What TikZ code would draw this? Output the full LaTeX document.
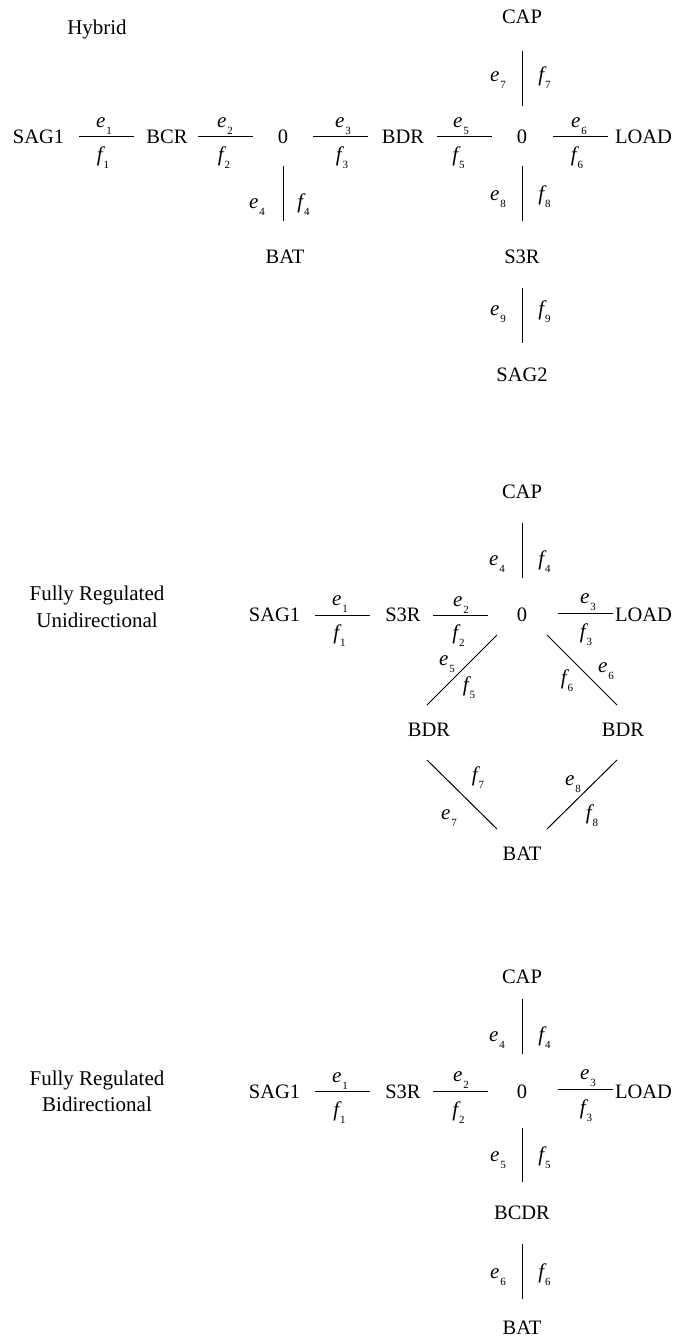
\documentclass[tikz,border=0pt]{standalone}
\usepackage{fontspec}
\setmainfont{Liberation Serif}
\usetikzlibrary{calc}
\tikzset{
  blk/.style={inner sep=0pt,outer sep=0pt,text height=14pt,text depth=0pt,font=\fontsize{20.5}{22}\selectfont},
  ttl/.style={inner sep=0pt,outer sep=0pt,align=center,font=\fontsize{21}{27}\selectfont},
  lab/.style={inner sep=0pt,outer sep=0pt,anchor=base,font=\fontsize{21}{22}\selectfont},
  conn/.style={draw=black,line width=1pt}
}
\newcommand{\bsym}[2]{{\itshape #1}\raisebox{-7pt}{\hspace{1pt}\fontsize{11}{12}\selectfont #2}}
\begin{document}
\begin{tikzpicture}[x=1pt,y=-1pt]
\useasboundingbox (0,0) rectangle (673,1339);
% ---- Hybrid
\node[ttl] (t1) at (97,29) {Hybrid};
\node[blk] (a1) at (38.5,136) {SAG1};
\node[blk] (a2) at (167,136) {BCR};
\node[blk] (a3) at (283,136) {0};
\node[blk] (a4) at (403,136) {BDR};
\node[blk] (a5) at (522,136) {0};
\node[blk] (a6) at (643.5,136) {LOAD};
\node[blk] (a7) at (522,16) {CAP};
\node[blk] (a8) at (285,256) {BAT};
\node[blk] (a9) at (522,256) {S3R};
\node[blk] (a10) at (522,374.5) {SAG2};
\draw[conn] ($(a1)+(40.5,0)$) -- ($(a2)+(-33,0)$);
\draw[conn] ($(a2)+(31,0)$) -- ($(a3)+(-30,0)$);
\draw[conn] ($(a3)+(30,0)$) -- ($(a4)+(-35,0)$);
\draw[conn] ($(a4)+(34,0)$) -- ($(a5)+(-30,0)$);
\draw[conn] ($(a5)+(31,0)$) -- ($(a6)+(-35.5,0)$);
\draw[conn] ($(a3)+(0,30)$) -- ($(a8)+(-2,-35)$);
\draw[conn] ($(a7)+(0,35)$) -- ($(a5)+(0,-30)$);
\draw[conn] ($(a5)+(0,30)$) -- ($(a9)+(0,-35)$);
\draw[conn] ($(a9)+(0,32)$) -- ($(a10)+(0,-31.5)$);
\node[lab] (e1) at (104,127) {\bsym{e}{1}};
\node[lab] (f1) at (103,161) {\bsym{f}{1}};
\node[lab] (e2) at (225,127) {\bsym{e}{2}};
\node[lab] (f2) at (224,161) {\bsym{f}{2}};
\node[lab] (e3) at (343,127) {\bsym{e}{3}};
\node[lab] (f3) at (342,161) {\bsym{f}{3}};
\node[lab] (e5) at (461,127) {\bsym{e}{5}};
\node[lab] (f5) at (458.5,161) {\bsym{f}{5}};
\node[lab] (e6) at (579,127) {\bsym{e}{6}};
\node[lab] (f6) at (577,161) {\bsym{f}{6}};
\node[lab] (e4) at (257,208) {\bsym{e}{4}};
\node[lab] (f4) at (303.5,208) {\bsym{f}{4}};
\node[lab] (e7) at (498,81) {\bsym{e}{7}};
\node[lab] (f7) at (544.5,81) {\bsym{f}{7}};
\node[lab] (e8) at (498,200) {\bsym{e}{8}};
\node[lab] (f8) at (544.5,200) {\bsym{f}{8}};
\node[lab] (e9) at (498,315) {\bsym{e}{9}};
\node[lab] (f9) at (544.5,315) {\bsym{f}{9}};
% ---- Unidirectional
\node[ttl] (t2) at (97,607) {Fully Regulated\\Unidirectional};
\node[blk] (b1) at (274.5,614) {SAG1};
\node[blk] (b2) at (403,614) {S3R};
\node[blk] (b3) at (522,614) {0};
\node[blk] (b4) at (643.5,614) {LOAD};
\node[blk] (b5) at (522,491) {CAP};
\node[blk] (b6) at (429,729) {BDR};
\node[blk] (b7) at (623,729) {BDR};
\node[blk] (b8) at (522,853) {BAT};
\draw[conn] ($(b1)+(40.5,1)$) -- ($(b2)+(-33,1)$);
\draw[conn] ($(b2)+(30,1)$) -- ($(b3)+(-34,1)$);
\draw[conn] ($(b3)+(36,-1)$) -- ($(b4)+(-30.5,-1)$);
\draw[conn] ($(b5)+(0,32)$) -- ($(b3)+(0,-36)$);
\draw[conn] ($(b3)+(-25,21)$) -- ($(b6)+(-2,-24)$);
\draw[conn] ($(b3)+(25,21)$) -- ($(b7)+(-6,-24)$);
\draw[conn] ($(b6)+(-2,31)$) -- ($(b8)+(-25,-24)$);
\draw[conn] ($(b7)+(-6,31)$) -- ($(b8)+(25,-24)$);
\node[lab] (ue1) at (340,605) {\bsym{e}{1}};
\node[lab] (uf1) at (339.5,639) {\bsym{f}{1}};
\node[lab] (ue2) at (461,606) {\bsym{e}{2}};
\node[lab] (uf2) at (458.5,639) {\bsym{f}{2}};
\node[lab] (ue3) at (588,603) {\bsym{e}{3}};
\node[lab] (uf3) at (586,638) {\bsym{f}{3}};
\node[lab] (ue4) at (497,565) {\bsym{e}{4}};
\node[lab] (uf4) at (544.5,565) {\bsym{f}{4}};
\node[lab] (ue5) at (447,665) {\bsym{e}{5}};
\node[lab] (uf5) at (469,691) {\bsym{f}{5}};
\node[lab] (ue6) at (606,672) {\bsym{e}{6}};
\node[lab] (uf6) at (567,684) {\bsym{f}{6}};
\node[lab] (ue7) at (449,819) {\bsym{e}{7}};
\node[lab] (uf7) at (478,781) {\bsym{f}{7}};
\node[lab] (ue8) at (573,785) {\bsym{e}{8}};
\node[lab] (uf8) at (592,819) {\bsym{f}{8}};
% ---- Bidirectional
\node[ttl] (t3) at (97,1091) {Fully Regulated\\[-1pt]Bidirectional};
\node[blk] (c1) at (274.5,1091) {SAG1};
\node[blk] (c2) at (403,1091) {S3R};
\node[blk] (c3) at (522,1091) {0};
\node[blk] (c4) at (643.5,1091) {LOAD};
\node[blk] (c5) at (522,976) {CAP};
\node[blk] (c6) at (522,1212) {BCDR};
\node[blk] (c7) at (522,1327) {BAT};
\draw[conn] ($(c1)+(40.5,0)$) -- ($(c2)+(-33,0)$);
\draw[conn] ($(c2)+(30,0)$) -- ($(c3)+(-34,0)$);
\draw[conn] ($(c3)+(36,-2)$) -- ($(c4)+(-30.5,-2)$);
\draw[conn] ($(c5)+(0,23)$) -- ($(c3)+(0,-37)$);
\draw[conn] ($(c3)+(0,37)$) -- ($(c6)+(0,-30)$);
\draw[conn] ($(c6)+(0,32)$) -- ($(c7)+(0,-28)$);
\node[lab] (be1) at (340,1082) {\bsym{e}{1}};
\node[lab] (bf1) at (339.5,1116) {\bsym{f}{1}};
\node[lab] (be2) at (461,1081) {\bsym{e}{2}};
\node[lab] (bf2) at (458.5,1116) {\bsym{f}{2}};
\node[lab] (be3) at (588,1079) {\bsym{e}{3}};
\node[lab] (bf3) at (586,1114) {\bsym{f}{3}};
\node[lab] (be4) at (497,1041) {\bsym{e}{4}};
\node[lab] (bf4) at (544.5,1041) {\bsym{f}{4}};
\node[lab] (be5) at (498,1161) {\bsym{e}{5}};
\node[lab] (bf5) at (544.5,1161) {\bsym{f}{5}};
\node[lab] (be6) at (498,1278) {\bsym{e}{6}};
\node[lab] (bf6) at (544.5,1278) {\bsym{f}{6}};
\end{tikzpicture}
\end{document}
